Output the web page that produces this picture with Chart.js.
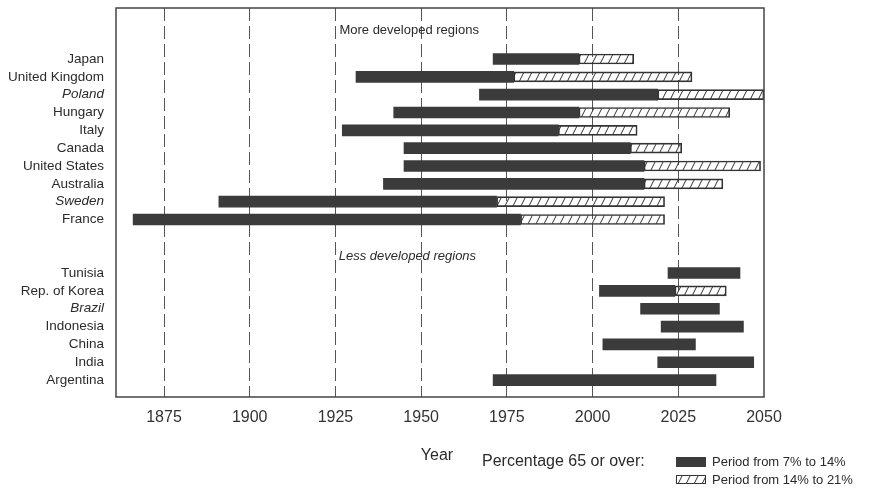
<!DOCTYPE html>
<html>
<head>
<meta charset="utf-8">
<script src="https://cdn.jsdelivr.net/npm/chart.js@4/dist/chart.umd.min.js"></script>
<style>
  body { margin: 0; background: #fff; }
</style>
</head>
<body>
<canvas id="chart" width="871" height="488"></canvas>
<script>
// rows: countries, row position on the y axis, first period (7-14%), second period (14-21%)
const countries = ['Japan', 'United Kingdom', 'Poland', 'Hungary', 'Italy', 'Canada', 'United States',
    'Australia', 'Sweden', 'France', 'Tunisia', 'Rep. of Korea', 'Brazil', 'Indonesia', 'China', 'India', 'Argentina'];
const rowIndex = [0, 1, 2, 3, 4, 5, 6, 7, 8, 9, 12, 13, 14, 15, 16, 17, 18];
const italicRows = ['Poland', 'Sweden', 'Brazil'];
const start7 = [1971, 1931, 1967, 1942, 1927, 1945, 1945, 1939, 1891, 1866, 2022, 2002, 2014, 2020, 2003, 2019, 1971];
const reach14 = [1996, 1977, 2019, 1996, 1990, 2011, 2015, 2015, 1972, 1979, 2043, 2024, 2037, 2044, 2030, 2047, 2036];
const reach21 = [2012, 2029, 2050, 2040, 2013, 2026, 2049, 2038, 2021, 2021, null, 2039, null, null, null, null, null];
const yearTicks = [1875, 1900, 1925, 1950, 1975, 2000, 2025, 2050];

const darkColor = '#3b3b3b';
const textColor = '#2b2b2b';
const fontFamily = '"Liberation Sans", Arial, sans-serif';

// hatch pattern for the second period
function makeHatch() {
    const c = document.createElement('canvas');
    c.width = 8;
    c.height = 16;
    const g = c.getContext('2d');
    g.strokeStyle = '#333';
    g.lineWidth = 1;
    g.beginPath();
    g.moveTo(-2, 20); g.lineTo(10, -4);
    g.moveTo(-10, 20); g.lineTo(2, -4);
    g.moveTo(6, 20); g.lineTo(18, -4);
    g.stroke();
    return document.getElementById('chart').getContext('2d').createPattern(c, 'repeat');
}
const hatch = makeHatch();

const firstData = [];
const secondData = [];
for (let i = 0; i < countries.length; i++) {
    firstData.push({ x: [start7[i], reach14[i]], y: rowIndex[i] });
    if (reach21[i] !== null) {
        secondData.push({ x: [reach14[i], reach21[i]], y: rowIndex[i] });
    }
}

const labelAt = {};
rowIndex.forEach((r, i) => { labelAt[r] = countries[i]; });

const extras = {
    id: 'extras',
    afterDraw(chart) {
        const ctx = chart.ctx;
        const area = chart.chartArea;
        const x = chart.scales.x;
        const y = chart.scales.y;
        ctx.save();
        // frame
        ctx.setLineDash([]);
        ctx.strokeStyle = '#444';
        ctx.lineWidth = 1.5;
        ctx.strokeRect(area.left, area.top, area.right - area.left, area.bottom - area.top);
        // group headings
        ctx.fillStyle = textColor;
        ctx.textAlign = 'center';
        ctx.textBaseline = 'middle';
        ctx.font = '13px ' + fontFamily;
        ctx.fillText('More developed regions', x.getPixelForValue(1946.5), y.getPixelForValue(-1.63));
        ctx.font = 'italic 13px ' + fontFamily;
        ctx.fillText('Less developed regions', x.getPixelForValue(1946), y.getPixelForValue(11.04));
        // axis title + legend
        ctx.font = '16px ' + fontFamily;
        ctx.fillText('Year', 437, 456);
        ctx.textAlign = 'left';
        ctx.fillText('Percentage 65 or over:', 482, 462);
        ctx.fillStyle = darkColor;
        ctx.fillRect(676, 457, 30, 10);
        ctx.fillStyle = hatch;
        ctx.fillRect(676, 475, 30, 9);
        ctx.strokeStyle = '#333';
        ctx.lineWidth = 1;
        ctx.strokeRect(676.5, 475.5, 29, 8);
        ctx.fillStyle = textColor;
        ctx.font = '13px ' + fontFamily;
        ctx.fillText('Period from 7% to 14%', 712, 462);
        ctx.fillText('Period from 14% to 21%', 712, 480);
        ctx.restore();
    }
};

new Chart(document.getElementById('chart').getContext('2d'), {
    type: 'bar',
    data: {
        datasets: [{
            label: 'Period from 7% to 14%',
            data: firstData,
            backgroundColor: darkColor,
            borderWidth: 0,
            barThickness: 11,
            grouped: false
        }, {
            label: 'Period from 14% to 21%',
            data: secondData,
            backgroundColor: hatch,
            borderColor: '#333',
            borderWidth: 1,
            borderSkipped: false,
            barThickness: 10,
            grouped: false
        }]
    },
    options: {
        indexAxis: 'y',
        responsive: false,
        animation: false,
        layout: { padding: { top: 8, right: 107, left: 0, bottom: 0 } },
        plugins: {
            legend: { display: false },
            tooltip: { enabled: false }
        },
        scales: {
            x: {
                type: 'linear',
                min: 1861,
                max: 2050,
                offset: false,
                afterBuildTicks(scale) {
                    scale.ticks = yearTicks.map(v => ({ value: v }));
                },
                afterFit(scale) {
                    scale.height = 91;
                    scale.paddingLeft = 0;
                    scale.paddingRight = 0;
                },
                grid: {
                    drawTicks: false,
                    color: (c) => c.tick && c.tick.value === 2050 ? 'rgba(0,0,0,0)' : '#555',
                    lineWidth: 1
                },
                border: { display: false, dash: [13, 5] },
                ticks: {
                    padding: 11,
                    color: '#333',
                    font: { family: fontFamily, size: 16 },
                    callback: (v) => String(v)
                }
            },
            y: {
                type: 'linear',
                reverse: true,
                offset: false,
                min: -2.86,
                max: 18.95,
                afterBuildTicks(scale) {
                    scale.ticks = rowIndex.map(v => ({ value: v }));
                },
                afterFit(scale) {
                    scale.width = 116;
                    scale.paddingTop = 0;
                    scale.paddingBottom = 0;
                },
                grid: { display: false, drawTicks: false },
                border: { display: false },
                ticks: {
                    padding: 12,
                    color: textColor,
                    font: (c) => ({
                        family: fontFamily,
                        size: 13.5,
                        style: c.tick && italicRows.includes(labelAt[c.tick.value]) ? 'italic' : 'normal'
                    }),
                    callback: (v) => labelAt[v] || ''
                }
            }
        }
    },
    plugins: [extras]
});
</script>
</body>
</html>
